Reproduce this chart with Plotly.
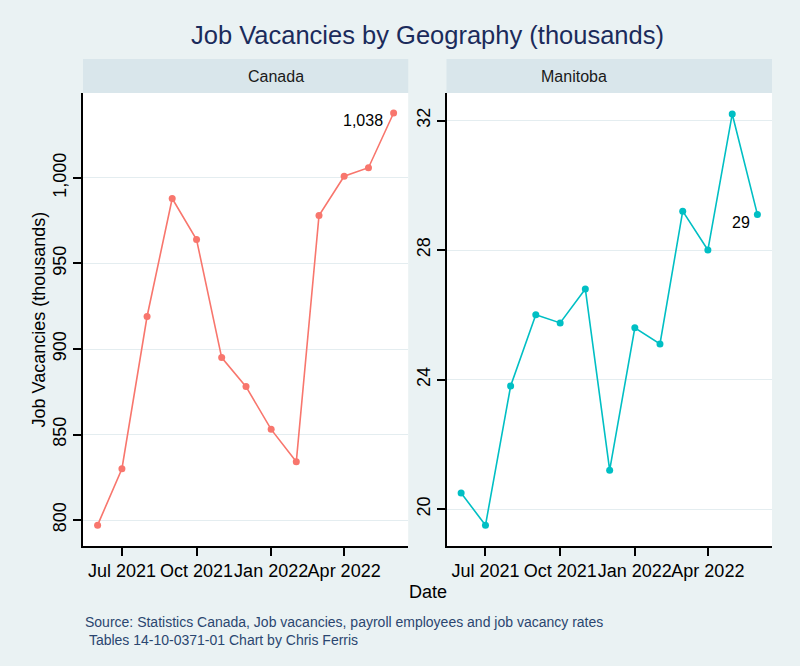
import plotly.graph_objects as go

# monthly job vacancies, thousands
dates = ['2021-06-01', '2021-07-01', '2021-08-01', '2021-09-01', '2021-10-01', '2021-11-01',
         '2021-12-01', '2022-01-01', '2022-02-01', '2022-03-01', '2022-04-01', '2022-05-01',
         '2022-06-01']
canada = [797, 830, 919, 988, 964, 895, 878, 853, 834, 978, 1001, 1006, 1038]
manitoba = [20.5, 19.5, 23.8, 26.0, 25.75, 26.8, 21.2, 25.6, 25.1, 29.2, 28.0, 32.2, 29.1]

xtick_vals = ['2021-07-01', '2021-10-01', '2022-01-01', '2022-04-01']
xtick_text = ['Jul 2021', 'Oct 2021', 'Jan 2022', 'Apr 2022']
canada_ticks = [800, 850, 900, 950, 1000]
manitoba_ticks = [20, 24, 28, 32]

FONT = 'Liberation Sans, Arial, sans-serif'
NAVY = '#1b2b5b'
BG = '#EAF2F3'
STRIP = '#D9E6EB'

fig = go.Figure()
fig.add_trace(go.Scatter(x=dates, y=canada, mode='lines+markers', name='Canada',
                         line=dict(color='#F8766D', width=1.6), marker=dict(size=7),
                         xaxis='x', yaxis='y', showlegend=False))
fig.add_trace(go.Scatter(x=dates, y=manitoba, mode='lines+markers', name='Manitoba',
                         line=dict(color='#00BFC4', width=1.6), marker=dict(size=7),
                         xaxis='x2', yaxis='y2', showlegend=False))

xcommon = dict(type='date', range=['2021-05-14', '2022-06-19'], tickvals=xtick_vals, ticktext=xtick_text,
               showgrid=False, showline=True, linecolor='black', linewidth=1.5,
               ticks='outside', ticklen=8, tickcolor='black', tickwidth=1.5, tickangle=0,
               tickfont=dict(size=18, color='black'), zeroline=False, automargin=False)
ycommon = dict(showgrid=True, gridcolor='#E4EDF0', gridwidth=1.2, showline=True, linecolor='black',
               linewidth=1.5, ticks='outside', ticklen=8, tickcolor='black', tickwidth=1.5,
               tickangle=-90, tickfont=dict(size=18, color='black'), zeroline=False, tickformat=',',
               automargin=False)

fig.update_layout(
    width=800, height=666,
    margin=dict(l=83, r=28, t=93, b=120),
    paper_bgcolor=BG, plot_bgcolor='white',
    font=dict(family=FONT, color='black'),
    title=dict(text='Job Vacancies by Geography (thousands)', x=0.5, xref='paper',
               y=1 - 35 / 666, yref='container', yanchor='middle',
               font=dict(size=25.5, color=NAVY)),
    xaxis=dict(domain=[0, 0.472], anchor='y', **xcommon),
    xaxis2=dict(domain=[0.5276, 1], anchor='y2', **xcommon),
    yaxis=dict(domain=[0, 1], anchor='x', range=[784.8, 1049.7], tickvals=canada_ticks, **ycommon),
    yaxis2=dict(domain=[0, 1], anchor='x2', range=[18.86, 32.85], tickvals=manitoba_ticks, **ycommon),
)

# facet strips
for x0, x1, label in [(0, 0.472, 'Canada'), (0.5276, 1, 'Manitoba')]:
    fig.add_shape(type='rect', xref='paper', yref='paper', x0=x0, x1=x1, y0=1.0, y1=1.075,
                  fillcolor=STRIP, line=dict(width=0), layer='below')
    fig.add_annotation(text=label, xref='paper', yref='paper', x=(x0 + x1) / 2, y=1.0375,
                       showarrow=False, yanchor='middle', font=dict(size=16, color='#1a1a1a'))

# last value labels
fig.add_annotation(x=dates[-1], y=canada[-1], xref='x', yref='y', text=f'{canada[-1]:,.0f}',
                   showarrow=False, xanchor='right', yanchor='middle', xshift=-9, yshift=-7,
                   font=dict(size=16, color='black'))
fig.add_annotation(x=dates[-1], y=manitoba[-1], xref='x2', yref='y2', text=f'{manitoba[-1]:.0f}',
                   showarrow=False, xanchor='right', yanchor='middle', xshift=-5, yshift=-8,
                   font=dict(size=16, color='black'))

# axis titles
fig.add_annotation(text='Date', xref='paper', yref='paper', x=0.5, y=-0.1015, showarrow=False,
                   yanchor='middle', font=dict(size=18, color='black'))
fig.add_annotation(text='Job Vacancies (thousands)', xref='paper', yref='paper', x=-0.0653, y=0.5,
                   textangle=-90, showarrow=False, xanchor='center', yanchor='middle',
                   font=dict(size=18, color='black'))

# caption
fig.add_annotation(text='Source: Statistics Canada, Job vacancies, payroll employees and job vacancy rates'
                        '<br>&nbsp;Tables 14-10-0371-01 Chart by Chris Ferris',
                   xref='paper', yref='paper', x=0, y=-0.1457, xanchor='left', yanchor='top',
                   align='left', showarrow=False, font=dict(size=14, color='#2a4670'))

# page has a default 8px body margin, drop it so the figure sits at 0,0
fig.write_html("out.html", config={'displayModeBar': False},
               post_script="document.body.style.margin='0';")
